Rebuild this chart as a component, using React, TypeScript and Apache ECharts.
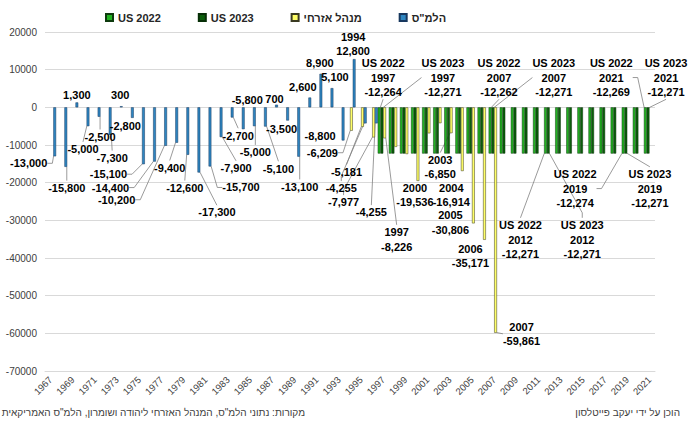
import React, { useEffect, useRef } from 'react';
import * as echarts from 'echarts';

const N = null;

const YEARS = [
  '1967', '1968', '1969', '1970', '1971', '1972', '1973', '1974', '1975', '1976',
  '1977', '1978', '1979', '1980', '1981', '1982', '1983', '1984', '1985', '1986',
  '1987', '1988', '1989', '1990', '1991', '1992', '1993', '1994', '1995', '1996',
  '1997', '1998', '1999', '2000', '2001', '2002', '2003', '2004', '2005', '2006',
  '2007', '2008', '2009', '2010', '2011', '2012', '2013', '2014', '2015', '2016',
  '2017', '2018', '2019', '2020', '2021',
];

// US 2022 (1997-2021)
const US2022: (number | null)[] = [
  N, N, N, N, N, N, N, N, N, N, N, N, N, N, N, N, N, N, N, N, N, N, N, N, N, N, N, N, N, N,
  -12264, -12266, -12268, -12265, -12270, -12267, -12263, -12266, -12268, -12265,
  -12262, -12267, -12270, -12268, -12272, -12271, -12269, -12273, -12270, -12272,
  -12275, -12273, -12274, -12271, -12269,
];

// US 2023 (1997-2021)
const US2023: (number | null)[] = [
  N, N, N, N, N, N, N, N, N, N, N, N, N, N, N, N, N, N, N, N, N, N, N, N, N, N, N, N, N, N,
  -12271, -12271, -12271, -12271, -12271, -12271, -12271, -12271, -12271, -12271,
  -12271, -12271, -12271, -12271, -12271, -12271, -12271, -12271, -12271, -12271,
  -12271, -12271, -12271, -12271, -12271,
];

// Civil Administration (1994-2007)
const CIVIL: (number | null)[] = [
  N, N, N, N, N, N, N, N, N, N, N, N, N, N, N, N, N, N, N, N, N, N, N, N, N, N, N,
  -6209, -5181, -7977, -8226, -10500, -12400, -19536, -6900, -4200, -6850,
  -16914, -30806, -35171, -59861,
  N, N, N, N, N, N, N, N, N, N, N, N, N, N,
];

// CBS (1967-1996)
const CBS: (number | null)[] = [
  -13000, -15800, 1300, -5000, -2500, -7300, 300, -2800, -15100, -14400,
  -10200, -9400, -12600, -17300, -15700, -7900, -2700, -5800, -5000, -5100,
  700, -3500, -13100, 2600, 8900, 5100, -8800, 12800, -4255, -4255,
  N, N, N, N, N, N, N, N, N, N, N, N, N, N, N, N, N, N, N, N, N, N, N, N, N,
];

const SERIES_NAMES = ['US 2022', 'US 2023', 'מנהל אזרחי', 'הלמ"ס'];
const SERIES_VALUES = [US2022, US2023, CIVIL, CBS];

// label placement: [seriesIndex, year, dx, dy (label centre relative to bar tip), leader (0 none, 1 line, 2 line+dash), text mode]
// text mode: 'v' value, 'yv' year + value, 'nyv' name + year + value
type Place = [number, string, number, number, number, string];
const PLACES: Place[] = [
  [3, '1967', -26, 7, 2, 'v'],
  [3, '1968', 1, 21, 1, 'v'],
  [3, '1969', 0, -7, 0, 'v'],
  [3, '1970', -5, 23, 1, 'v'],
  [3, '1971', 1, 20, 1, 'v'],
  [3, '1972', 2, 23, 1, 'v'],
  [3, '1973', -1, -11, 0, 'v'],
  [3, '1974', -7, 8, 0, 'v'],
  [3, '1975', -35, 10, 2, 'v'],
  [3, '1976', -44, 26, 2, 'v'],
  [3, '1977', -49, 54, 2, 'v'],
  [3, '1978', -7, 25, 1, 'v'],
  [3, '1979', -3, 33, 1, 'v'],
  [3, '1980', 18, 40, 1, 'v'],
  [3, '1981', 31, 21, 2, 'v'],
  [3, '1982', 15, 31, 1, 'v'],
  [3, '1983', 6, 18, 1, 'v'],
  [3, '1984', 4, -29, 0, 'v'],
  [3, '1985', 1, 26, 1, 'v'],
  [3, '1986', 13, 42, 1, 'v'],
  [3, '1987', -2, -6, 0, 'v'],
  [3, '1988', -6, 8, 0, 'v'],
  [3, '1989', 1, 30, 1, 'v'],
  [3, '1990', -7, -11, 0, 'v'],
  [3, '1991', -1, -11, 0, 'v'],
  [3, '1992', 3, -11, 0, 'v'],
  [3, '1993', -23, -4, 0, 'v'],
  [3, '1994', -1, -15, 0, 'yv'],
  [3, '1995', -24, 65, 2, 'v'],
  [3, '1996', -5, 89, 1, 'v'],
  [2, '1994', -29, 22, 2, 'v'],
  [2, '1995', -16, 45, 1, 'v'],
  [2, '1996', -30, 65, 2, 'v'],
  [2, '1997', 12, 101, 1, 'yv'],
  [2, '2000', -3, 14, 0, 'yv'],
  [2, '2003', -11, 34, 1, 'yv'],
  [2, '2004', -11, 24, 0, 'yv'],
  [2, '2005', -23, -1, 0, 'yv'],
  [2, '2006', -14, 16, 0, 'yv'],
  [2, '2007', 26, 1, 1, 'yv'],
  [0, '1997', 4, -76, 1, 'nyv'],
  [1, '1997', 61, -76, 1, 'nyv'],
  [0, '2007', 9, -76, 1, 'nyv'],
  [1, '2007', 61, -76, 1, 'nyv'],
  [0, '2012', -25, 86, 1, 'nyv'],
  [1, '2012', 34, 86, 2, 'nyv'],
  [0, '2019', -48, 35, 2, 'nyv'],
  [1, '2019', 24, 35, 1, 'nyv'],
  [0, '2021', -34, -76, 2, 'nyv'],
  [1, '2021', 18, -76, 1, 'nyv'],
];

const STYLES = [
  { color: '#22b322', border: '#0d3a0d' },
  { color: '#0b5e0b', border: '#062e06' },
  { color: '#ffff66', border: '#3a3a20' },
  { color: '#2e86c1', border: '#17375e' },
];

const FONT = "'Liberation Sans', Arial, sans-serif";
const fmt = (v: number) => v.toLocaleString('en-US');

export default function App() {
  const ref = useRef<HTMLDivElement>(null);
  useEffect(() => {
    document.body.style.margin = '0';
    const chart = echarts.init(ref.current as HTMLDivElement, null, { renderer: 'svg' });
    const placeMap: Record<string, Place> = {};
    PLACES.forEach((p) => {
      placeMap[p[0] + '|' + YEARS.indexOf(p[1])] = p;
    });

    const layoutFn = (p: any) => {
      const pl = placeMap[p.seriesIndex + '|' + p.dataIndex];
      if (!pl) return {};
      const v = SERIES_VALUES[p.seriesIndex][p.dataIndex] as number;
      const r = p.rect;
      const cx = r.x + r.width / 2;
      const top = Math.min(r.y, r.y + r.height);
      const bot = Math.max(r.y, r.y + r.height);
      const tip = v < 0 ? bot : top;
      return { x: cx + pl[2], y: tip + pl[3], align: 'center', verticalAlign: 'middle' };
    };

    const series = SERIES_VALUES.map((vals, s) => ({
      type: 'bar',
      name: SERIES_NAMES[s],
      barGap: '0%',
      barCategoryGap: '0%',
      itemStyle: { color: STYLES[s].color, borderColor: STYLES[s].border, borderWidth: 0.5 },
      label: {
        show: false,
        color: '#000',
        fontWeight: 'bold',
        fontSize: 11,
        fontFamily: FONT,
        lineHeight: 14.5,
      },
      labelLine: { show: false, lineStyle: { color: '#808080', width: 0.8 } },
      labelLayout: layoutFn,
      emphasis: { disabled: true },
      data: vals.map((v, i) => {
        if (v == null) return null;
        const pl = placeMap[s + '|' + i];
        if (!pl) return v;
        let text = fmt(v);
        if (pl[5] === 'yv') text = YEARS[i] + '\n' + text;
        if (pl[5] === 'nyv') text = SERIES_NAMES[s] + '\n' + YEARS[i] + '\n' + text;
        return {
          value: v,
          label: { show: true, formatter: text },
          labelLine: { show: pl[4] > 0, length2: pl[4] === 2 ? 5 : 0 },
        };
      }),
    }));

    chart.setOption({
      animation: false,
      textStyle: { fontFamily: FONT },
      legend: {
        left: 100,
        top: 7,
        itemWidth: 7,
        itemHeight: 7,
        itemGap: 37,
        icon: 'rect',
        data: SERIES_NAMES,
        textStyle: { fontWeight: 'bold', fontSize: 11, color: '#262626', fontFamily: FONT },
      },
      grid: { left: 45, right: 33, top: 32, bottom: 54 },
      xAxis: {
        type: 'category',
        data: YEARS,
        axisLine: { show: true, onZero: false, lineStyle: { color: '#d9d9d9' } },
        axisTick: { show: false },
        axisLabel: { interval: 1, rotate: 45, fontSize: 9.5, margin: 7, color: '#404040', fontFamily: FONT },
      },
      yAxis: {
        type: 'value',
        min: -70000,
        max: 20000,
        interval: 10000,
        axisLine: { show: false },
        axisTick: { show: false },
        splitLine: { lineStyle: { color: '#d9d9d9' } },
        axisLabel: { fontSize: 10, color: '#404040', margin: 8, formatter: (v: number) => String(v), fontFamily: FONT },
      },
      graphic: [
        {
          type: 'text',
          right: 383,
          top: 407,
          style: {
            text: 'מקורות: נתוני הלמ"ס, המנהל האזרחי ליהודה ושומרון, הלמ"ס האמריקאית',
            fontSize: 10,
            fontFamily: FONT,
            fill: '#404040',
          },
        },
        {
          type: 'text',
          right: 8,
          top: 407,
          style: {
            text: 'הוכן על ידי יעקב פייטלסון',
            fontSize: 10,
            fontFamily: FONT,
            fill: '#404040',
          },
        },
      ],
      series,
    });
    return () => chart.dispose();
  }, []);
  return <div ref={ref} style={{ width: 688, height: 425 }} />;
}
